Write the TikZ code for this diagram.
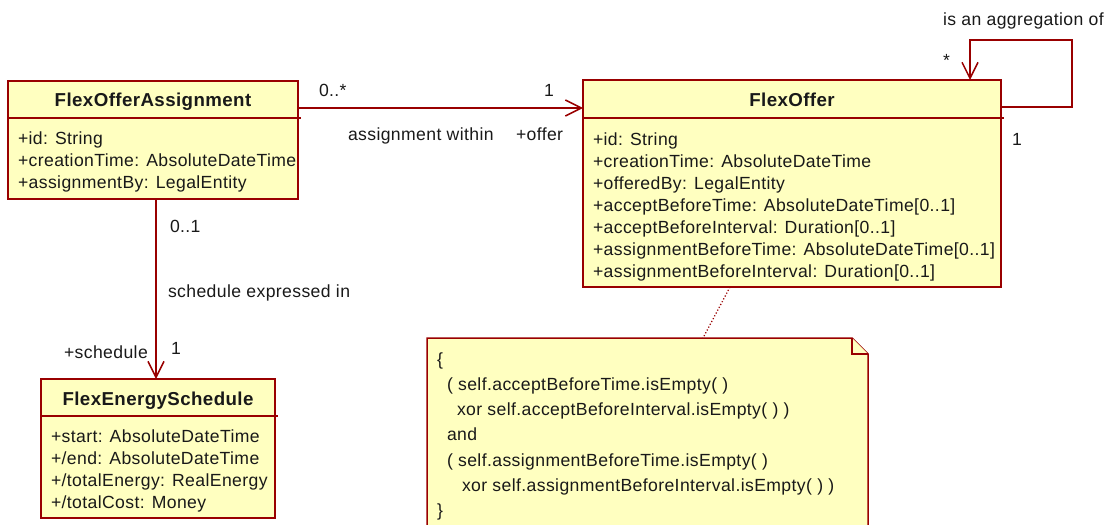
\documentclass[tikz,border=0pt]{standalone}
\usepackage{fontspec}
\setmainfont{Liberation Sans}[LetterSpace=2.2]
\usetikzlibrary{arrows.meta,calc}
\definecolor{umlred}{RGB}{153,0,0}
\definecolor{umlfill}{RGB}{255,255,192}
\definecolor{umltext}{RGB}{25,25,25}
\begin{document}
\begin{tikzpicture}[x=1pt,y=-1pt,
  every node/.style={inner sep=0pt, outer sep=0pt, text=umltext,
    font=\fontsize{17.6}{22}\selectfont},
  classbox/.style={draw=umlred, fill=umlfill, line width=1.5pt, rectangle, anchor=north west},
  divider/.style={draw=umlred, line width=1.5pt},
  classtitle/.style={font=\fontsize{18.7}{22}\selectfont\bfseries, anchor=base},
  attr/.style={anchor=base west},
  lbl/.style={anchor=base west},
  assoc/.style={draw=umlred, line width=1.5pt, -{Straight Barb[length=16pt,width=16pt]}},
  notebox/.style={draw=umlred, fill=umlfill, line width=1.5pt, line join=miter},
  anchorline/.style={draw=umlred, line width=1.2pt, dotted},
]
\useasboundingbox (0,0) rectangle (1112,525);

% ---- class FlexOfferAssignment ----
\node[classbox, minimum width=290pt, minimum height=118pt] (foa) at (8,81) {};
\draw[divider] ($(foa.north west)+(0,37)$) -- ($(foa.north east)+(3,37)$);
\node[classtitle] (foa-t) at ($(foa.north)+(0,25)$) {FlexOfferAssignment};
\foreach \txt [count=\i] in {+id: String, +creationTime: AbsoluteDateTime, +assignmentBy: LegalEntity}
  \node[attr] (foa-a\i) at ($(foa.north west)+(10,41+22*\i)$) {\txt};

% ---- class FlexOffer ----
\node[classbox, minimum width=418pt, minimum height=207pt] (fo) at (583,80) {};
\draw[divider] ($(fo.north west)+(0,38)$) -- ($(fo.north east)+(3,38)$);
\node[classtitle] (fo-t) at ($(fo.north)+(0,26)$) {FlexOffer};
\foreach \txt [count=\i] in {+id: String, +creationTime: AbsoluteDateTime, +offeredBy: LegalEntity,
    +acceptBeforeTime: AbsoluteDateTime[0..1], +acceptBeforeInterval: Duration[0..1],
    +assignmentBeforeTime: AbsoluteDateTime[0..1], +assignmentBeforeInterval: Duration[0..1]}
  \node[attr] (fo-a\i) at ($(fo.north west)+(10,43+22*\i)$) {\txt};

% ---- class FlexEnergySchedule ----
\node[classbox, minimum width=234pt, minimum height=139pt] (fes) at (41,379) {};
\draw[divider] ($(fes.north west)+(0,37)$) -- ($(fes.north east)+(3,37)$);
\node[classtitle] (fes-t) at ($(fes.north)+(0,26)$) {FlexEnergySchedule};
\foreach \txt [count=\i] in {+start: AbsoluteDateTime, +/end: AbsoluteDateTime,
    +/totalEnergy: RealEnergy, +/totalCost: Money}
  \node[attr] (fes-a\i) at ($(fes.north west)+(10,41+22*\i)$) {\txt};

% ---- association: assignment within ----
\coordinate (assoc-y) at (0,108);
\draw[assoc] (foa.north east |- assoc-y) -- (fo.north west |- assoc-y);
\node[lbl] (m-foa) at (319,96) {0..*};
\node[lbl] (m-fo) at (544,96) {1};
\node[lbl] (n-within) at (348,140) {assignment within};
\node[lbl] (r-offer) at (516,140) {+offer};

% ---- association: schedule expressed in ----
\coordinate (sched-x) at (156,0);
\draw[assoc] (sched-x |- foa.south) -- (sched-x |- fes.north);
\node[lbl] (m-sfoa) at (170,232) {0..1};
\node[lbl] (n-sched) at (168,297) {schedule expressed in};
\node[lbl] (m-sfes) at (171,354) {1};
\node[lbl] (r-sched) at (64,358) {+schedule};

% ---- self association: is an aggregation of ----
\coordinate (loop-y) at (0,107);
\coordinate (loop-r) at (1072,40);
\coordinate (loop-l) at (970,40);
\draw[assoc] (fo.north east |- loop-y) -| (loop-r) -- (loop-l) -- (loop-l |- fo.north);
\node[lbl] (n-aggr) at (943,25) {is an aggregation of};
\node[lbl] (m-many) at (943,66) {*};
\node[lbl] (m-one) at (1012,145) {1};

% ---- constraint note ----
\node[minimum width=441pt, minimum height=200pt, anchor=north west] (note) at (427,338) {};
\draw[notebox] (note.south west) -- (note.north west) -- ($(note.north east)+(-16,0)$)
  -- ($(note.north east)+(0,16)$) -- (note.south east);
\draw[notebox] ($(note.north east)+(-16,0)$) -- ($(note.north east)+(-16,16)$)
  -- ($(note.north east)+(0,16)$);
\coordinate (note-x) at (730,0);
\draw[anchorline] (note-x |- fo.south) -- ($(note.north west)+(276,0)$);

\node[lbl] (c1) at (437,365) {\{};
\node[lbl] (c2) at (447,390.3) {( self.acceptBeforeTime.isEmpty( )};
\node[lbl] (c3) at (457,415.6) {xor self.acceptBeforeInterval.isEmpty( ) )};
\node[lbl] (c4) at (447,440.9) {and};
\node[lbl] (c5) at (447,466.2) {( self.assignmentBeforeTime.isEmpty( )};
\node[lbl] (c6) at (462,491.5) {xor self.assignmentBeforeInterval.isEmpty( ) )};
\node[lbl] (c7) at (437,516.8) {\}};
\end{tikzpicture}
\end{document}
